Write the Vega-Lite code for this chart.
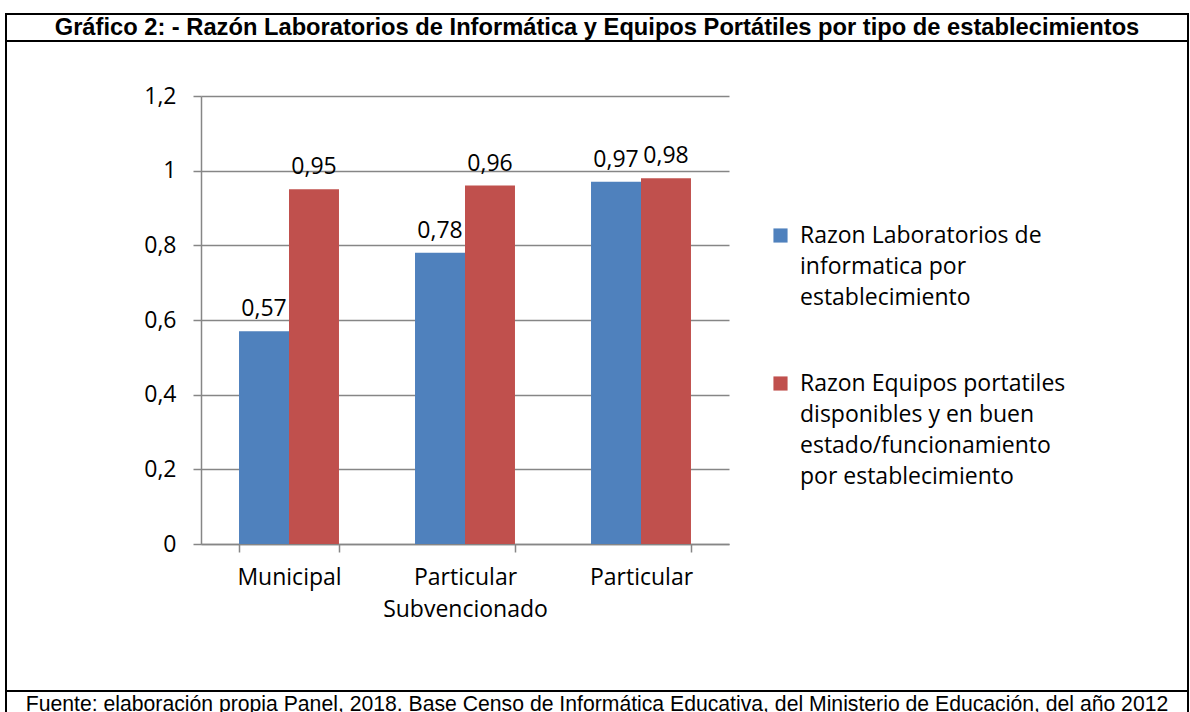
{
  "$schema": "https://vega.github.io/schema/vega-lite/v6.json",
  "padding": {"left": 5, "top": 13, "right": 3, "bottom": 0},
  "bounds": "flush",
  "spacing": 0,
  "background": "white",
  "config": {
    "view": {"stroke": "black", "strokeWidth": 2},
    "locale": {"number": {"decimal": ",", "thousands": ".", "grouping": [3], "currency": ["$", ""]}}
  },
  "vconcat": [
    {
      "width": 1182,
      "height": 27,
      "view": {"stroke": "black", "strokeWidth": 2},
      "data": {"values": [{"titulo": "Gráfico 2: - Razón Laboratorios de Informática y Equipos Portátiles por tipo de establecimientos"}]},
      "mark": {"type": "text", "font": "Liberation Sans", "fontWeight": "bold", "fontSize": 23.7, "align": "center", "baseline": "middle", "color": "black"},
      "encoding": {
        "text": {"field": "titulo"},
        "x": {"datum": 0.5, "type": "quantitative", "scale": {"domain": [0, 1]}, "axis": null},
        "y": {"datum": 0.5, "type": "quantitative", "scale": {"domain": [0, 1]}, "axis": null}
      }
    },
    {
      "width": 1182,
      "height": 650,
      "data": {"values": [
        {"tipo": "Municipal", "serie": "Razon Laboratorios de informatica por establecimiento", "valor": 0.57},
        {"tipo": "Municipal", "serie": "Razon Equipos portatiles disponibles y en buen estado/funcionamiento por establecimiento", "valor": 0.95},
        {"tipo": "Particular Subvencionado", "serie": "Razon Laboratorios de informatica por establecimiento", "valor": 0.78},
        {"tipo": "Particular Subvencionado", "serie": "Razon Equipos portatiles disponibles y en buen estado/funcionamiento por establecimiento", "valor": 0.96},
        {"tipo": "Particular", "serie": "Razon Laboratorios de informatica por establecimiento", "valor": 0.97},
        {"tipo": "Particular", "serie": "Razon Equipos portatiles disponibles y en buen estado/funcionamiento por establecimiento", "valor": 0.98}
      ]},
      "encoding": {
        "x": {
          "field": "tipo", "type": "nominal",
          "sort": ["Municipal", "Particular Subvencionado", "Particular"],
          "scale": {"range": [195, 723], "paddingInner": 0.432, "paddingOuter": 0.216},
          "axis": {
            "title": null, "offset": -147, "tickBand": "extent", "labelAngle": 0,
            "domainColor": "#868686", "domainWidth": 1.5, "tickColor": "#868686", "tickWidth": 1.5, "tickSize": 8,
            "labelFont": "Open Sans", "labelFontSize": 23, "labelColor": "black", "labelPadding": 14, "labelLineHeight": 32,
            "labelExpr": "datum.label == 'Particular Subvencionado' ? ['Particular', 'Subvencionado'] : datum.label",
            "labelBaseline": "top"
          }
        },
        "y": {
          "field": "valor", "type": "quantitative",
          "scale": {"domain": [0, 1.2], "range": [503, 55], "nice": false},
          "axis": {
            "title": null, "offset": -195, "values": [0, 0.2, 0.4, 0.6, 0.8, 1, 1.2], "format": "~g",
            "grid": true, "gridColor": "#868686", "gridWidth": 1.5,
            "domainColor": "#868686", "domainWidth": 1.5, "tickColor": "#868686", "tickWidth": 1.5, "tickSize": 8,
            "labelFont": "Open Sans", "labelFontSize": 23, "labelColor": "black", "labelPadding": 17
          }
        },
        "xOffset": {"field": "serie", "type": "nominal", "sort": ["Razon Laboratorios de informatica por establecimiento", "Razon Equipos portatiles disponibles y en buen estado/funcionamiento por establecimiento"]}
      },
      "layer": [
        {
          "mark": {"type": "bar"},
          "encoding": {
            "color": {
              "field": "serie", "type": "nominal",
              "scale": {"domain": ["Razon Laboratorios de informatica por establecimiento", "Razon Equipos portatiles disponibles y en buen estado/funcionamiento por establecimiento"], "range": ["#4F81BD", "#C0504D"]},
              "legend": {
                "orient": "none", "legendX": 763, "legendY": 210, "title": null, "padding": 0,
                "symbolType": "square", "symbolSize": 200, "symbolStrokeWidth": 0,
                "labelFont": "Open Sans", "labelFontSize": 23, "labelColor": "black", "labelOffset": 8, "labelLimit": 500,
                "rowPadding": 62,
                "labelExpr": "datum.label == 'Razon Laboratorios de informatica por establecimiento' ? ['Razon Laboratorios de', 'informatica por', 'establecimiento'] : ['Razon Equipos portatiles', 'disponibles y en buen', 'estado/funcionamiento', 'por establecimiento']",
                "encode": {"labels": {"update": {"lineHeight": {"value": 31}}}}
              }
            }
          }
        },
        {
          "mark": {"type": "text", "font": "Open Sans", "fontSize": 23, "baseline": "alphabetic", "dy": -15, "color": "black"},
          "encoding": {"text": {"field": "valor", "type": "quantitative", "format": ".2f"}}
        }
      ]
    },
    {
      "width": 1182,
      "height": 28,
      "view": {"stroke": "black", "strokeWidth": 2},
      "data": {"values": [{"fuente": "Fuente: elaboración propia Panel, 2018. Base Censo de Informática Educativa, del Ministerio de Educación, del año 2012"}]},
      "mark": {"type": "text", "font": "Liberation Sans", "fontSize": 21.2, "align": "center", "baseline": "middle", "color": "black"},
      "encoding": {
        "text": {"field": "fuente"},
        "x": {"datum": 0.5, "type": "quantitative", "scale": {"domain": [0, 1]}, "axis": null},
        "y": {"datum": 0.5, "type": "quantitative", "scale": {"domain": [0, 1]}, "axis": null}
      }
    }
  ]
}
